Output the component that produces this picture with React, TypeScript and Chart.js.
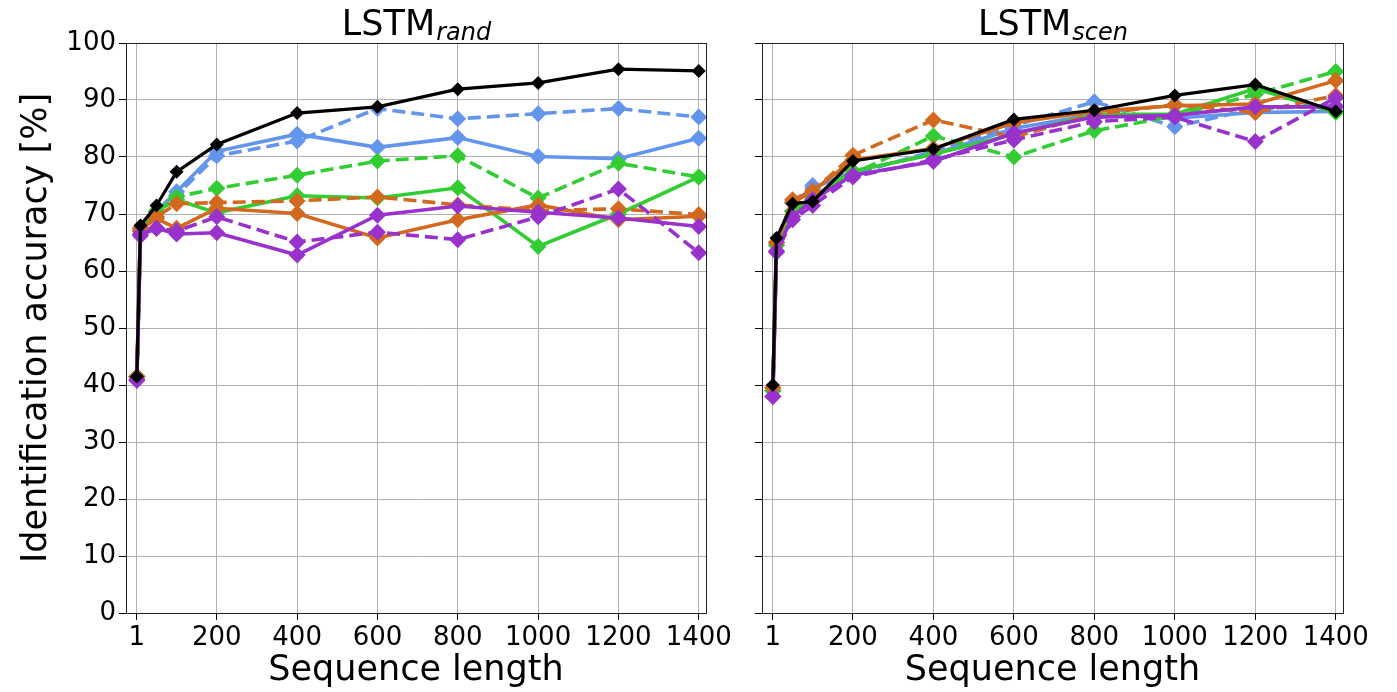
import React, { useEffect, useRef } from "react";
import { Chart, registerables } from "chart.js";

Chart.register(...registerables);

const xValues = [1, 10, 50, 100, 200, 400, 600, 800, 1000, 1200, 1400];
const xTicks = [1, 200, 400, 600, 800, 1000, 1200, 1400];
const yLabel = "Identification accuracy [%]";
const xLabel = "Sequence length";

// LSTM_rand panel
const randBlack = [41.5, 68.0, 71.5, 77.4, 82.2, 87.7, 88.8, 91.9, 93.0, 95.4, 95.1];
const randBlueSolid = [41.5, 67.5, 70.5, 73.9, 81.0, 84.0, 81.7, 83.4, 80.1, 79.7, 83.3];
const randBlueDashed = [41.5, 67.5, 70.5, 73.3, 80.2, 82.8, 88.5, 86.7, 87.6, 88.5, 87.0];
const randGreenSolid = [41.5, 67.0, 70.5, 72.5, 70.2, 73.2, 72.8, 74.6, 64.3, 70.0, 76.5];
const randGreenDashed = [41.5, 67.0, 70.5, 73.0, 74.5, 76.8, 79.3, 80.2, 72.8, 78.9, 76.5];
const randOrangeSolid = [41.5, 67.5, 69.2, 67.5, 71.0, 70.1, 65.8, 69.0, 71.6, 69.0, 69.6];
const randOrangeDashed = [41.5, 67.0, 69.5, 71.8, 72.0, 72.3, 73.0, 71.6, 70.6, 70.9, 69.9];
const randPurpleSolid = [40.8, 66.5, 67.5, 66.5, 66.7, 62.8, 69.8, 71.4, 70.3, 69.3, 67.8];
const randPurpleDashed = [41.0, 66.2, 67.5, 67.0, 69.5, 65.1, 66.8, 65.5, 69.5, 74.4, 63.2];

// LSTM_scen panel
const scenBlack = [40.0, 65.8, 71.8, 72.2, 79.3, 81.4, 86.6, 88.2, 90.8, 92.7, 88.0];
const scenBlueSolid = [39.0, 65.0, 72.0, 74.5, 77.5, 80.5, 85.0, 87.5, 86.8, 87.8, 88.0];
const scenBlueDashed = [39.0, 65.0, 72.0, 75.0, 77.0, 81.0, 85.5, 89.7, 85.3, 88.5, 89.0];
const scenGreenSolid = [39.0, 64.5, 70.5, 73.0, 77.5, 80.5, 84.0, 87.5, 87.5, 92.0, 87.8];
const scenGreenDashed = [39.0, 64.5, 70.5, 72.5, 77.0, 83.7, 80.0, 84.6, 87.2, 91.0, 95.0];
const scenOrangeSolid = [39.5, 65.0, 72.5, 74.0, 79.5, 81.5, 86.0, 88.0, 89.0, 89.3, 93.4];
const scenOrangeDashed = [39.5, 65.0, 72.0, 74.0, 80.3, 86.5, 83.5, 87.5, 89.2, 87.8, 90.8];
const scenPurpleSolid = [38.0, 63.5, 69.5, 72.5, 76.8, 79.2, 84.2, 87.0, 87.3, 88.8, 88.8];
const scenPurpleDashed = [38.0, 63.3, 69.0, 71.5, 76.5, 79.5, 83.0, 86.2, 87.0, 82.7, 90.4];

const BLUE = "#6495ED";
const GREEN = "#32CD32";
const ORANGE = "#D2691E";
const PURPLE = "#9932CC";
const BLACK = "#000000";
const FONT = "'DejaVu Sans', 'Liberation Sans', sans-serif";

type SeriesDef = { values: number[]; color: string; dashed: boolean };

function buildDatasets(list: SeriesDef[]) {
  return list.map((s) => {
    const isBlack = s.color === BLACK;
    return {
      data: xValues.map((x, i) => ({ x, y: s.values[i] })),
      borderColor: s.color,
      backgroundColor: s.color,
      borderWidth: isBlack ? 3.2 : 3.6,
      borderDash: s.dashed ? [13, 6] : [],
      pointStyle: "rectRot",
      pointRadius: isBlack ? 7 : 8.5,
      pointBorderWidth: 0,
      pointBackgroundColor: s.color,
      tension: 0,
      fill: false,
    };
  });
}

function makePlugin(sub: string) {
  return {
    id: "frameTitle" + sub,
    afterDraw(chart: any) {
      const ctx = chart.ctx;
      const { left, right, top, bottom } = chart.chartArea;
      ctx.save();
      ctx.strokeStyle = "#222";
      ctx.lineWidth = 1;
      ctx.strokeRect(left + 0.5, top + 0.5, right - left, bottom - top);
      ctx.fillStyle = "#000";
      ctx.textBaseline = "alphabetic";
      ctx.font = `35px ${FONT}`;
      const w1 = ctx.measureText("LSTM").width;
      ctx.font = `italic 24px ${FONT}`;
      const w2 = ctx.measureText(sub).width;
      const x0 = (left + right) / 2 - (w1 + w2) / 2;
      ctx.font = `35px ${FONT}`;
      ctx.fillText("LSTM", x0, 35);
      ctx.font = `italic 24px ${FONT}`;
      ctx.fillText(sub, x0 + w1 + 1, 40);
      ctx.restore();
    },
  };
}

function Panel(props: {
  left: number;
  width: number;
  yAxisWidth: number;
  padRight: number;
  showY: boolean;
  sub: string;
  series: SeriesDef[];
}) {
  const ref = useRef<HTMLCanvasElement | null>(null);
  useEffect(() => {
    if (!ref.current) return;
    const chart = new Chart(ref.current, {
      type: "line",
      data: { datasets: buildDatasets(props.series) as any },
      options: {
        animation: false,
        responsive: false,
        maintainAspectRatio: false,
        layout: { padding: { top: 43, right: props.padRight, left: 0, bottom: 0 } },
        plugins: { legend: { display: false }, tooltip: { enabled: false }, title: { display: false } },
        scales: {
          x: {
            type: "linear",
            min: -26,
            max: 1418,
            afterBuildTicks: (scale: any) => {
              scale.ticks = xTicks.map((v) => ({ value: v }));
            },
            afterFit: (scale: any) => {
              scale.height = 79;
              scale.paddingLeft = 0;
              scale.paddingRight = 0;
            },
            grid: { color: "#b0b0b0", lineWidth: 1, tickColor: "#000", tickLength: 7, drawTicks: true },
            border: { display: true, color: "#222", width: 1 },
            ticks: {
              autoSkip: false,
              maxRotation: 0,
              padding: 3,
              color: "#000",
              font: { family: FONT, size: 26 },
              callback: (v: any) => String(v),
            },
            title: {
              display: true,
              text: xLabel,
              color: "#000",
              font: { family: FONT, size: 35 },
              padding: { top: 0, bottom: 0 },
            },
          },
          y: {
            type: "linear",
            min: 0,
            max: 100,
            afterFit: (scale: any) => {
              scale.width = props.yAxisWidth;
              scale.paddingTop = 0;
              scale.paddingBottom = 0;
            },
            grid: { color: "#b0b0b0", lineWidth: 1, tickColor: "#000", tickLength: 7, drawTicks: true },
            border: { display: true, color: "#222", width: 1 },
            ticks: {
              stepSize: 10,
              display: props.showY,
              padding: 3,
              color: "#000",
              font: { family: FONT, size: 26 },
            },
            title: {
              display: props.showY,
              text: yLabel,
              color: "#000",
              font: { family: FONT, size: 35 },
              padding: { top: 16, bottom: 0 },
            },
          },
        },
      },
      plugins: [makePlugin(props.sub)],
    } as any);
    return () => chart.destroy();
  }, []);
  return (
    <canvas
      ref={ref}
      width={props.width}
      height={692}
      style={{ position: "absolute", left: props.left, top: 0, width: props.width, height: 692 }}
    />
  );
}

function order(b: number[], bl: number[], bd: number[], gs: number[], gd: number[], os: number[], od: number[], ps: number[], pd: number[]): SeriesDef[] {
  return [
    { values: b, color: BLACK, dashed: false },
    { values: pd, color: PURPLE, dashed: true },
    { values: ps, color: PURPLE, dashed: false },
    { values: od, color: ORANGE, dashed: true },
    { values: os, color: ORANGE, dashed: false },
    { values: gd, color: GREEN, dashed: true },
    { values: gs, color: GREEN, dashed: false },
    { values: bd, color: BLUE, dashed: true },
    { values: bl, color: BLUE, dashed: false },
  ];
}

export default function App() {
  const randSeries = order(randBlack, randBlueSolid, randBlueDashed, randGreenSolid, randGreenDashed, randOrangeSolid, randOrangeDashed, randPurpleSolid, randPurpleDashed);
  const scenSeries = order(scenBlack, scenBlueSolid, scenBlueDashed, scenGreenSolid, scenGreenDashed, scenOrangeSolid, scenOrangeDashed, scenPurpleSolid, scenPurpleDashed);
  return (
    <div style={{ position: "fixed", left: 0, top: 0, width: 1397, height: 692, background: "#fff" }}>
      <Panel left={0} width={745} yAxisWidth={126} padRight={745 - 706} showY={true} sub="rand" series={randSeries} />
      <Panel left={700} width={697} yAxisWidth={62} padRight={697 - 643} showY={false} sub="scen" series={scenSeries} />
    </div>
  );
}
